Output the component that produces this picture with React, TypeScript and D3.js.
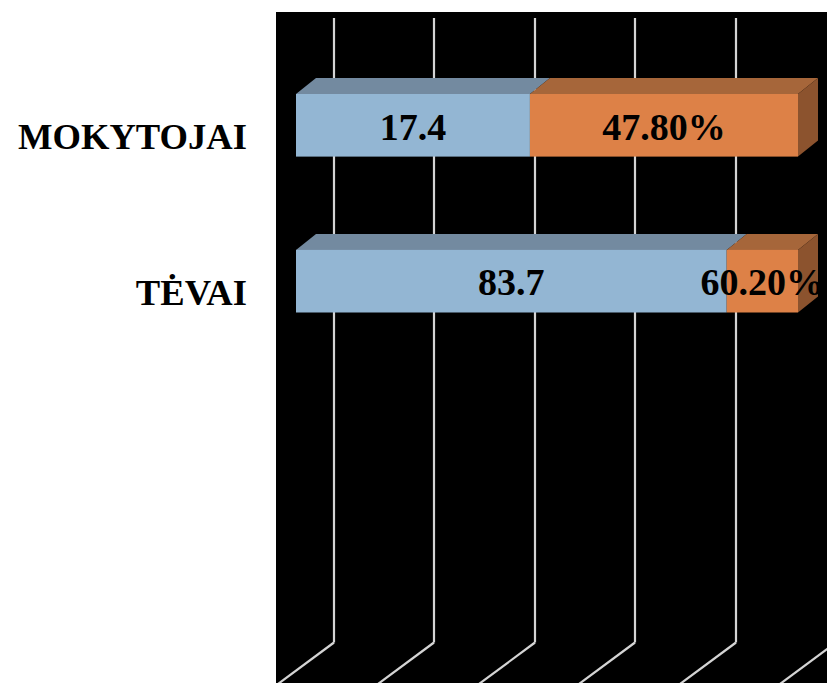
import React from "react";
import * as d3 from "d3";

const categories = ["MOKYTOJAI", "TĖVAI"];
const blueShare = [46.6, 85.8];
const orangeShare = [53.4, 14.2];
const blueLabels = ["17.4", "83.7"];
const orangeLabels = ["47.80%", "60.20%"];
const gridTicks = [0, 20, 40, 60, 80, 100];

const W = 827;
const H = 683;

export default function App() {
  const x = d3.scaleLinear().domain([0, 100]).range([296, 798]);
  const y = d3.scalePoint<string>().domain(categories).range([125.3, 281.2]);
  const barH = 62.6;
  const dx = 20;
  const dy = -16;
  const wallOff = 38;
  const gridTop = 18;
  const gridBottom = 642.5;
  const floorSlope = 1.35;
  const font = "'Liberation Serif', 'Times New Roman', serif";

  const blueFront = "#93B6D3";
  const blueTop = "#738AA0";
  const orFront = "#DD8147";
  const orTop = "#A6663A";
  const orSide = "#8C532E";

  const pts = (a: number[][]) => a.map((p) => p.join(",")).join(" ");

  return (
    <svg
      width={W}
      height={H}
      style={{ position: "absolute", left: 0, top: 0, background: "#fff" }}
    >
      <rect x={276} y={12} width={W - 276} height={H - 12} fill="#000" />
      {gridTicks.map((t) => {
        const gx = Math.round(x(t) + wallOff);
        const len = 80;
        return (
          <g key={t}>
            <line x1={gx} y1={gridTop} x2={gx} y2={gridBottom} stroke="#D4D4D4" strokeWidth={2.2} />
            <line
              x1={gx}
              y1={gridBottom}
              x2={gx - floorSlope * len}
              y2={gridBottom + len}
              stroke="#D4D4D4"
              strokeWidth={2.2}
            />
          </g>
        );
      })}
      {categories.map((c, i) => {
        const cy = y(c)!;
        const yTop = cy - barH / 2;
        const yBot = cy + barH / 2;
        const x0 = x(0);
        const x1 = x(blueShare[i]);
        const x2 = x(blueShare[i] + orangeShare[i]);
        return (
          <g key={c}>
            <polygon
              points={pts([[x0, yTop], [x1, yTop], [x1 + dx, yTop + dy], [x0 + dx, yTop + dy]])}
              fill={blueTop}
            />
            <polygon
              points={pts([[x1, yTop], [x2, yTop], [x2 + dx, yTop + dy], [x1 + dx, yTop + dy]])}
              fill={orTop}
            />
            <polygon
              points={pts([[x2, yTop], [x2 + dx, yTop + dy], [x2 + dx, yBot + dy], [x2, yBot]])}
              fill={orSide}
            />
            <rect x={x0} y={yTop} width={x1 - x0} height={barH} fill={blueFront} />
            <rect x={x1} y={yTop} width={x2 - x1} height={barH} fill={orFront} />
            <text
              x={(x0 + x1) / 2}
              y={cy + 14.2}
              textAnchor="middle"
              fontFamily={font}
              fontWeight="bold"
              fontSize={38}
              fill="#000"
            >
              {blueLabels[i]}
            </text>
            <text
              x={(x1 + x2) / 2}
              y={cy + 14.2}
              textAnchor="middle"
              fontFamily={font}
              fontWeight="bold"
              fontSize={38}
              fill="#000"
            >
              {orangeLabels[i]}
            </text>
            <text
              x={247}
              y={cy + 24}
              textAnchor="end"
              fontFamily={font}
              fontWeight="bold"
              fontSize={36.6}
              fill="#000"
            >
              {c}
            </text>
          </g>
        );
      })}
    </svg>
  );
}
